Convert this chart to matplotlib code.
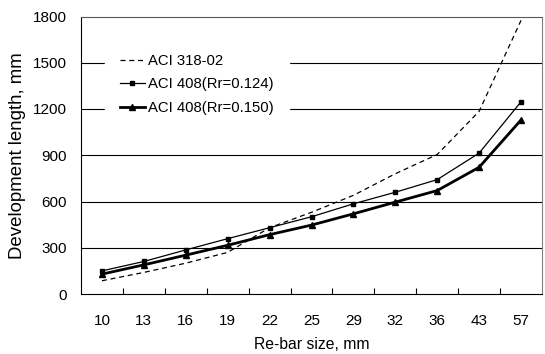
import matplotlib.pyplot as plt
import numpy as np

plt.rcParams['font.family'] = ['Liberation Sans', 'DejaVu Sans']

bar_sizes = ['10', '13', '16', '19', '22', '25', '29', '32', '36', '43', '57']
aci318 = [86, 140, 200, 270, 430, 530, 640, 780, 905, 1185, 1775]
aci408_124 = [150, 211, 286, 359, 430, 501, 585, 660, 742, 914, 1247]
aci408_150 = [129, 189, 252, 316, 385, 447, 520, 596, 671, 822, 1129]

fig = plt.figure(figsize=(5.45, 3.54), dpi=100)
ax = fig.add_axes([81 / 545, 1 - 294 / 354, 461 / 545, 277.5 / 354])

x = np.arange(len(bar_sizes))
ax.plot(x, aci318, color='black', lw=0.9, ls=(0, (4, 3)), label='ACI 318-02')
ax.plot(x, aci408_124, color='black', lw=0.9, marker='s', ms=3.2,
        label='ACI 408(Rr=0.124)')
ax.plot(x, aci408_150, color='black', lw=2.0, marker='^', ms=4.5,
        label='ACI 408(Rr=0.150)')

ax.set_xlim(-0.5, len(bar_sizes) - 0.5)
ax.set_ylim(0, 1800)
ax.set_yticks(range(0, 1801, 300))
ax.set_xticks(x)
ax.set_xticklabels(bar_sizes)
ax.set_xticks(x[:-1] + 0.5, minor=True)
ax.tick_params(axis='x', which='major', length=0, pad=14.5, labelsize=11)
ax.tick_params(axis='x', which='minor', direction='in', length=4, width=0.8)
ax.tick_params(axis='y', length=0, pad=10, labelsize=11)

for v in range(300, 1600, 300):
    ax.axhline(v, color='black', lw=0.8, zorder=0)

for s in ax.spines.values():
    s.set_linewidth(0.8)
ax.spines['top'].set_linestyle((0, (1, 1)))
ax.spines['top'].set_color('0.35')
ax.spines['right'].set_color('0.5')

ax.set_xlabel('Re-bar size, mm', fontsize=11.3, labelpad=6.5)
ax.set_ylabel('Development length, mm', fontsize=13.4, labelpad=5)

leg = ax.legend(loc='upper left', bbox_to_anchor=(0.052, 0.919), borderaxespad=0,
                fontsize=10.7, handlelength=1.7, handletextpad=0.2,
                labelspacing=0.65, borderpad=1.0, fancybox=False,
                framealpha=1, facecolor='white', edgecolor='white')
leg.set_zorder(5)

fig.savefig('out.png', dpi=100)
